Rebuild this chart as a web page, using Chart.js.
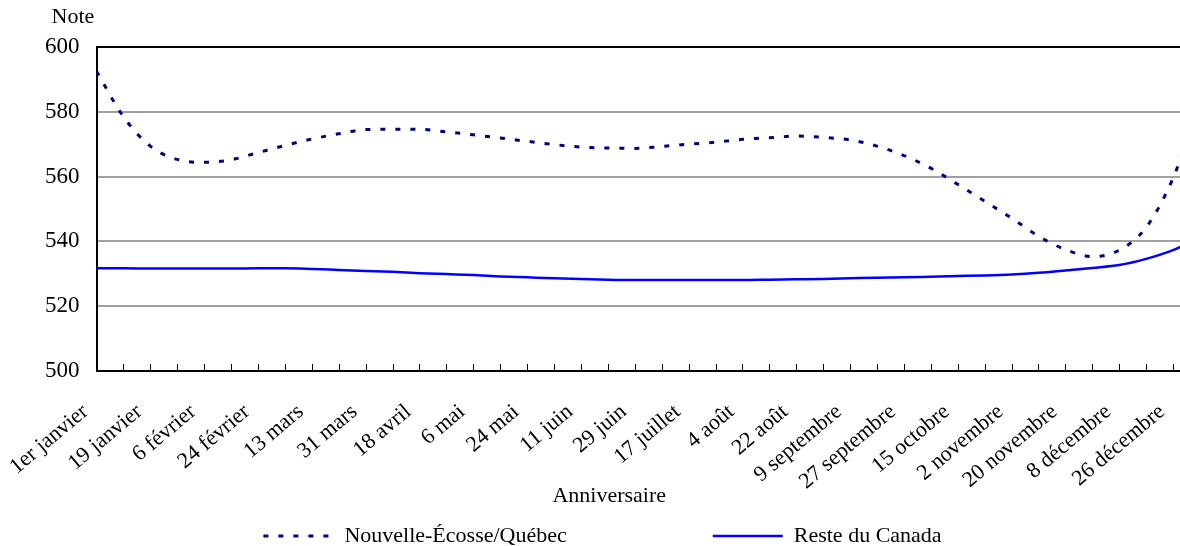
<!DOCTYPE html>
<html lang="fr">
<head>
<meta charset="utf-8">
<script src="https://cdn.jsdelivr.net/npm/chart.js@4/dist/chart.umd.min.js"></script>
<style>
  html, body { margin: 0; padding: 0; background: #fff; overflow: hidden; }
</style>
</head>
<body>
<canvas id="graphique" width="1192" height="546"></canvas>
<script>
// Étiquettes de l'axe des x (tous les 18 jours)
const dateLabels = ['1er janvier', '19 janvier', '6 février', '24 février', '13 mars', '31 mars',
    '18 avril', '6 mai', '24 mai', '11 juin', '29 juin', '17 juillet', '4 août', '22 août',
    '9 septembre', '27 septembre', '15 octobre', '2 novembre', '20 novembre', '8 décembre', '26 décembre'];

// Jour de l'année (0 = 1er janvier) des points
const days = [0, 9, 18, 27, 36, 45, 54, 63, 72, 81, 90, 99, 108, 117, 126, 135, 144, 153, 162, 171,
    180, 189, 198, 207, 216, 225, 234, 243, 252, 261, 270, 279, 288, 297, 306, 315, 324, 333, 342,
    351, 360, 365];

const noteNEQuebec = [592.5, 578.5, 569.4, 565.3, 564.4, 565.2, 567.4, 569.6, 571.6, 573.2, 574.5,
    574.6, 574.6, 573.8, 572.9, 571.9, 570.9, 569.9, 569.1, 568.8, 568.7, 569.3, 570.0, 570.6,
    571.5, 572.0, 572.5, 572.1, 571.3, 569.4, 566.5, 562.6, 557.6, 552.4, 547.2, 541.6, 537.5,
    535.3, 537.3, 544.3, 559.5, 572.0];

const noteResteCanada = [531.7, 531.7, 531.6, 531.6, 531.6, 531.6, 531.7, 531.7, 531.5, 531.2,
    530.9, 530.6, 530.2, 529.9, 529.6, 529.2, 528.9, 528.6, 528.4, 528.2, 528.1, 528.1, 528.1,
    528.1, 528.1, 528.2, 528.3, 528.4, 528.6, 528.8, 528.9, 529.1, 529.3, 529.5, 529.8, 530.3,
    531.0, 531.8, 532.7, 534.6, 537.3, 539.4];

const yTicks = [500, 520, 540, 560, 580, 600];

const police = '"Liberation Serif", "Times New Roman", serif';

// Petits traits de graduation vers l'intérieur + titre "Note"
const extras = {
    id: 'extras',
    afterDraw(chart) {
        const ctx = chart.ctx;
        const xs = chart.scales.x;
        const area = chart.chartArea;
        ctx.save();
        ctx.strokeStyle = '#000';
        ctx.lineWidth = 1;
        xs.ticks.forEach(t => {
            const px = Math.round(xs.getPixelForValue(t.value)) + 0.5;
            ctx.beginPath();
            ctx.moveTo(px, area.bottom);
            ctx.lineTo(px, area.bottom - 7);
            ctx.stroke();
        });
        ctx.font = '22px ' + police;
        ctx.fillStyle = '#000';
        ctx.textAlign = 'center';
        ctx.textBaseline = 'middle';
        ctx.fillText('Note', 73, 17);
        ctx.restore();
    }
};

Chart.defaults.color = '#000';
Chart.defaults.font.family = police;
Chart.defaults.font.size = 22;

new Chart(document.getElementById('graphique'), {
    type: 'line',
    data: {
        datasets: [{
            label: 'Nouvelle-Écosse/Québec',
            data: days.map((d, i) => ({ x: d, y: noteNEQuebec[i] })),
            borderColor: '#000080',
            backgroundColor: '#000080',
            borderWidth: 3,
            borderDash: [5, 10],
            pointRadius: 0,
            cubicInterpolationMode: 'monotone'
        }, {
            label: 'Reste du Canada',
            data: days.map((d, i) => ({ x: d, y: noteResteCanada[i] })),
            borderColor: '#0000ff',
            backgroundColor: '#0000ff',
            borderWidth: 2.5,
            pointRadius: 0,
            cubicInterpolationMode: 'monotone'
        }]
    },
    options: {
        responsive: false,
        animation: false,
        layout: { padding: { top: 47, left: 28, right: 4, bottom: -11 } },
        scales: {
            x: {
                type: 'linear',
                min: 0,
                max: 365,
                title: { display: true, text: 'Anniversaire\u2003\u2003\u2003', padding: { top: 0, bottom: 13 } },
                border: { color: '#000', width: 2 },
                grid: { drawOnChartArea: false, drawTicks: false },
                afterFit: axis => {
                    axis.paddingLeft = 0;
                    axis.paddingRight = 0;
                    axis.height = 151;
                },
                ticks: {
                    stepSize: 9,
                    includeBounds: false,
                    autoSkip: false,
                    maxRotation: 40,
                    minRotation: 40,
                    padding: 28,
                    labelOffset: -11,
                    font: { size: 22 },
                    callback: v => (v % 18 === 0 ? dateLabels[v / 18] : '')
                }
            },
            y: {
                min: 500,
                max: 600,
                border: { color: '#000', width: 2 },
                grid: {
                    drawTicks: false,
                    lineWidth: 2,
                    color: c => (c.tick && (c.tick.value === 600 || c.tick.value === 500) ? '#000' : '#a0a0a0')
                },
                afterBuildTicks: axis => { axis.ticks = yTicks.map(v => ({ value: v })); },
                ticks: { padding: 17, font: { size: 23 } }
            }
        },
        plugins: {
            legend: {
                position: 'bottom',
                labels: {
                    usePointStyle: true,
                    pointStyle: 'line',
                    pointStyleWidth: 70,
                    padding: 3,
                    generateLabels: chart => Chart.defaults.plugins.legend.labels.generateLabels(chart).map((it, i) => {
                        const ds = chart.data.datasets[i];
                        it.lineDash = ds.borderDash || [];
                        it.lineWidth = ds.borderWidth;
                        if (i === 0) it.text = it.text + '\u2003\u2003\u2003\u2003\u2003\u2003\u2002';
                        else it.text = it.text + '\u2002';
                        return it;
                    })
                }
            },
            tooltip: { enabled: false }
        }
    },
    plugins: [extras]
});
</script>
</body>
</html>
